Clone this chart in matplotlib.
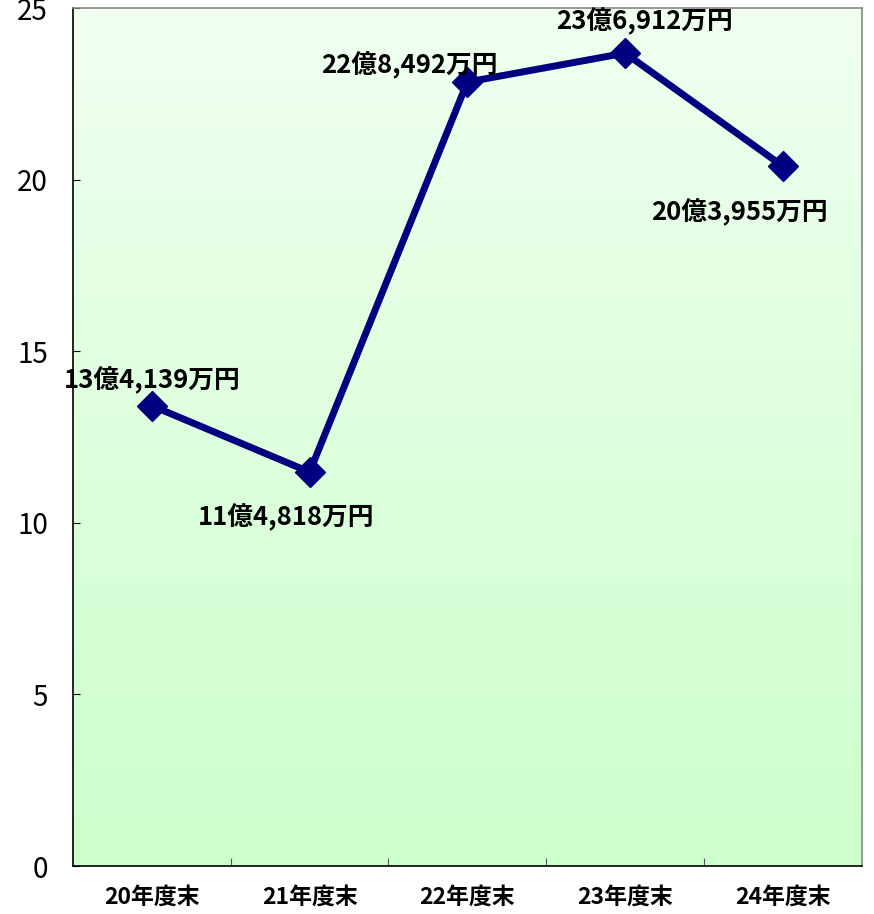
import numpy as np
import matplotlib
matplotlib.use("Agg")
import matplotlib.pyplot as plt
from matplotlib.colors import LinearSegmentedColormap

plt.rcParams['font.family'] = ['Noto Sans CJK JP', 'DejaVu Sans']

categories = ["20年度末", "21年度末", "22年度末", "23年度末", "24年度末"]
values = [13.4139, 11.4818, 22.8492, 23.6912, 20.3955]
labels = ["13億4,139万円", "11億4,818万円", "22億8,492万円", "23億6,912万円", "20億3,955万円"]
# label offsets in points relative to each marker
offsets = [(0, 18), (-17, -33), (-42, 12), (14, 23), (-31, -33)]

fig = plt.figure(figsize=(8.74, 9.14), dpi=100)
ax = fig.add_axes([0.0835, 0.0525, 0.9025, 0.9385])

x = np.arange(len(categories))
ax.set_xlim(-0.5, len(categories) - 0.5)
ax.set_ylim(0, 25)

# gradient background: pale at top, light green at bottom
cmap = LinearSegmentedColormap.from_list("bg", ["#ccffcc", "#f0fff0"])
grad = np.linspace(0, 1, 256).reshape(-1, 1)
ax.imshow(grad, cmap=cmap, origin="lower", aspect="auto",
          extent=(-0.5, len(categories) - 0.5, 0, 25), zorder=0)

ax.plot(x, values, color="#000080", lw=5, marker="D", markersize=15,
        solid_joinstyle="miter", zorder=3)

for xi, v, lab, off in zip(x, values, labels, offsets):
    ax.annotate(lab, (xi, v), xytext=off, textcoords="offset points",
                ha="center", va="center", fontsize=18.5, fontweight="bold",
                color="black", zorder=4, annotation_clip=False)

ax.set_yticks(np.arange(0, 26, 5))
ax.tick_params(axis="y", direction="in", length=5, labelsize=20, pad=18)
ax.set_xticks(np.arange(0.5, len(categories) - 1, 1.0), minor=False)
ax.set_xticklabels([])
ax.set_xticks(x, minor=True)
ax.set_xticklabels(categories, minor=True, fontsize=16.5, fontweight="bold")
ax.tick_params(axis="x", which="major", direction="in", length=6, color="#555555")
ax.tick_params(axis="x", which="minor", length=0, pad=14)

ax.spines["left"].set_color("black")
ax.spines["bottom"].set_color("black")
ax.spines["top"].set_color("#888888")
ax.spines["right"].set_color("#888888")
for s in ax.spines.values():
    s.set_linewidth(1.2)

fig.savefig("out.png", dpi=100)
